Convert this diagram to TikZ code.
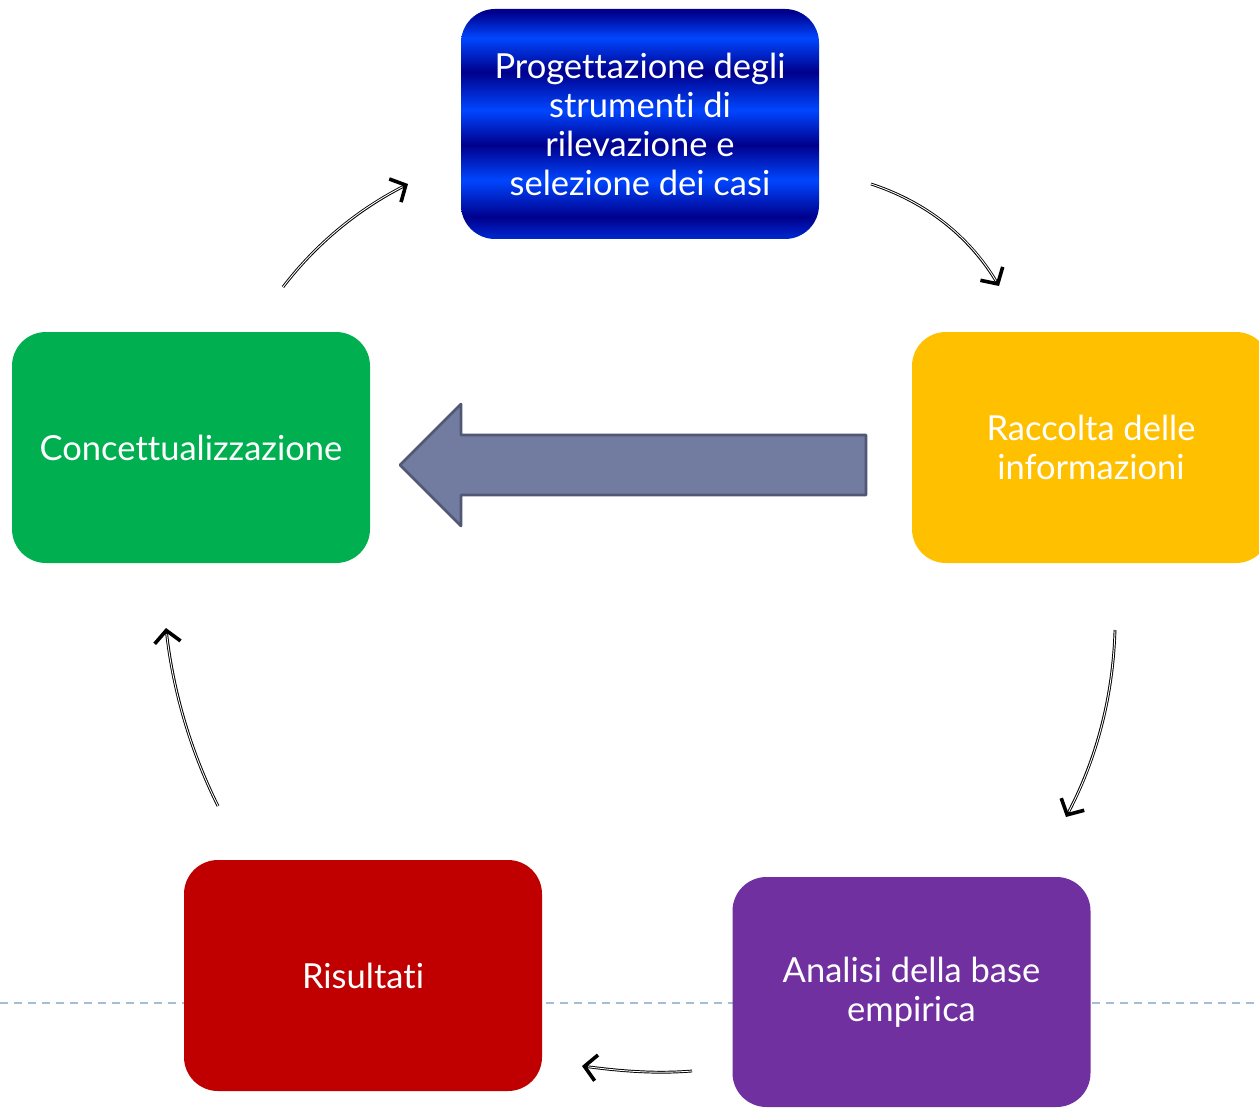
\documentclass[tikz,border=0pt]{standalone}
\usepackage{fontspec}
\setmainfont{Lato}[Ligatures={NoCommon,NoContextual}]
\usetikzlibrary{arrows.meta}
\definecolor{db}{RGB}{0,0,140}
\definecolor{bb}{RGB}{0,70,255}
\definecolor{mb}{RGB}{0,40,210}
\definecolor{gbox}{RGB}{0,176,80}
\definecolor{ybox}{RGB}{255,192,0}
\definecolor{pbox}{RGB}{112,48,160}
\definecolor{rbox}{RGB}{192,0,0}
\definecolor{afill}{RGB}{114,124,160}
\definecolor{aline}{RGB}{80,88,118}
\definecolor{dline}{RGB}{166,189,215}
\pgfdeclareverticalshading{bands}{100bp}{color(0bp)=(mb); color(25bp)=(mb); color(29.8bp)=(db); color(37.8bp)=(bb); color(45.4bp)=(db); color(53bp)=(bb); color(61.3bp)=(db); color(68.7bp)=(bb); color(74.3bp)=(db); color(100bp)=(db)}
\tikzset{
  box/.style={rounded corners=34pt, minimum width=358pt, minimum height=231pt, inner sep=0pt, align=center, text=white, font=\fontsize{34.5}{39}\selectfont},
  conn/.style={draw=black, line width=2.8pt, -{Straight Barb[length=12pt,width=26pt,line width=3.6pt]}, postaction={draw=white, line width=0.9pt, -, shorten >=6pt}},
}
\begin{document}
\begin{tikzpicture}[x=1pt,y=-1pt]
\useasboundingbox (0,0) rectangle (1259,1110);
\fill[white] (0,0) rectangle (1259,1110);
\draw[dline, line width=1.8pt, dash pattern=on 8pt off 6pt] (0,1003) -- (1259,1003);
\node[box, shading=bands, minimum height=230pt] (prog) at (640,124) {Progettazione degli\\strumenti di\\rilevazione e\\selezione dei casi};
\node[box, fill=gbox] (conc) at (191,447.5) {Concettualizzazione};
\node[box, fill=ybox] (racc) at (1091,447.5) {Raccolta delle\\informazioni};
\node[box, fill=pbox, minimum height=230pt] (anal) at (911.5,992) {Analisi della base\\empirica};
\node[box, fill=rbox] (ris) at (363,975.5) {Risultati};
\draw[fill=afill, draw=aline, line width=2.6pt, line join=round] (866,435) -- (461,435) -- (461,404) -- (400,465) -- (461,526) -- (461,495) -- (866,495) -- cycle;
\coordinate (a1s) at (283,287); \coordinate (a1e) at (408,184);
\coordinate (a2s) at (871,184); \coordinate (a2e) at (999,286);
\coordinate (a3s) at (1115,630); \coordinate (a3e) at (1066,817);
\coordinate (a4s) at (692,1071); \coordinate (a4e) at (582,1066);
\coordinate (a5s) at (218,806); \coordinate (a5e) at (166,628);
\draw[conn] (a1s) .. controls (316,244) and (357,210) .. (a1e);
\draw[conn] (a2s) .. controls (926,202) and (969,236) .. (a2e);
\draw[conn] (a3s) .. controls (1113,696) and (1097,758) .. (a3e);
\draw[conn] (a4s) .. controls (655,1074) and (620,1071) .. (a4e);
\draw[conn] (a5s) .. controls (190,750) and (173,690) .. (a5e);
\end{tikzpicture}
\end{document}
